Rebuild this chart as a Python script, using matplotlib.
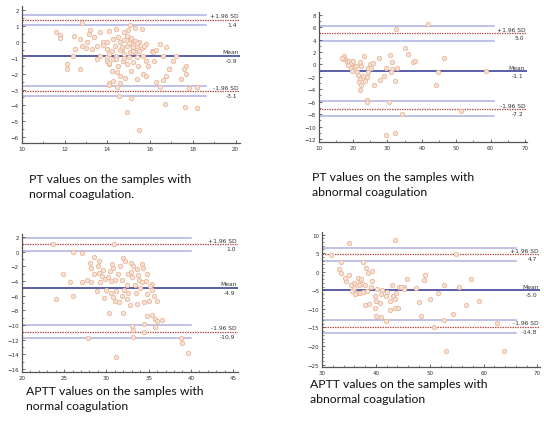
import matplotlib
matplotlib.use('Agg')
import matplotlib.pyplot as plt
from matplotlib.ticker import MultipleLocator
import matplotlib.transforms as mtransforms

# --- data ---
pt_normal_x = [12.8, 15.05, 11.6, 11.8, 11.8, 12.44, 12.7, 13.2, 13.15, 13.65, 14.1, 14.4, 14.77, 14.98,
               15.3, 15.6, 12.5, 12.8, 13.06, 13.27, 13.5, 13.8, 13.97, 14.28, 14.35, 14.6, 14.7, 14.9,
               15.05, 15.13, 15.2, 15.29, 15.37, 15.5, 15.5, 15.8, 16.07, 16.45, 16.76, 13.65, 13.97,
               14.1, 14.4, 14.77, 15.05, 15.37, 15.68, 16.14, 12.4, 12.1, 13.5, 13.97, 14.1, 14.28,
               14.5, 14.74, 14.9, 15.2, 15.44, 15.83, 16.2, 16.6, 17.08, 17.2, 17.7, 17.6, 12.1, 12.7,
               14.2, 14.43, 14.6, 15.13, 15.68, 15.83, 15.37, 14.82, 14.28, 14.1, 16.3, 16.6, 16.76,
               16.9, 17.46, 17.7, 16.45, 14.43, 14.1, 18.2, 17.8, 14.55, 15.13, 16.7, 17.65, 18.2,
               14.9, 15.5, 14.5, 14.8, 15.0, 15.2, 14.6, 14.9, 15.1, 15.4, 14.2, 14.0, 13.8, 14.7,
               15.3, 15.6, 14.4, 14.1, 15.0, 15.2, 14.8, 13.4, 13.0, 16.3, 16.9, 15.9, 14.6, 15.7]
pt_normal_y = [1.22, 1.06, 0.64, 0.43, 0.22, 0.34, 0.18, 0.72, 0.49, 0.64, 0.7, 0.8, 0.6, 0.76,
               0.85, 0.8, -0.45, -0.24, -0.03, -0.45, -0.24, -0.03, -0.45, 0.18, -0.24, -0.03, -0.45,
               -0.24, 0.18, -0.14, -0.45, 0.07, -0.24, -0.56, -0.03, -0.14, -0.56, -0.14, -0.35,
               -0.87, -0.98, -0.77, -0.87, -0.77, -0.66, -0.98, -0.87, -0.66, -0.87, -1.4, -1.08,
               -1.19, -1.4, -1.08, -1.5, -1.19, -1.4, -1.29, -1.5, -1.19, -1.19, -0.87, -1.19, -0.87,
               -1.5, -1.71, -1.71, -1.71, -1.82, -1.92, -2.13, -1.82, -2.03, -2.17, -2.34, -2.3,
               -2.44, -2.59, -2.5, -2.38, -2.13, -1.71, -2.34, -2.03, -2.86, -2.86, -2.7, -2.86,
               -2.9, -3.39, -3.55, -3.93, -4.12, -4.18, -4.39, -5.53, 0.3, 0.1, -0.1, -0.3, -0.5,
               0.4, 0.25, -0.1, -0.6, 0.0, -0.2, -0.35, -0.65, -0.4, -1.1, -1.3, -0.95, -0.55,
               -1.0, 0.3, -0.4, -0.5, -1.7, -1.5, -2.6, -0.25]

pt_abn_x = [41.8, 32.6, 17.4, 17.6, 18.1, 18.7, 19.5, 20.0, 19.3, 20.3, 20.5, 21.9, 22.4, 23.2, 24.2,
            24.9, 25.3, 25.8, 21.0, 21.5, 21.9, 21.7, 22.3, 23.4, 23.9, 22.9, 21.9, 26.0, 27.8, 29.0,
            29.7, 27.5, 30.7, 31.2, 31.4, 30.9, 32.9, 32.3, 35.0, 36.0, 37.5, 37.9, 46.5, 44.8, 44.2,
            58.6, 23.9, 24.1, 30.5, 34.3, 51.4, 29.5, 32.3, 24.4, 17.0, 18.4, 19.8, 20.8, 16.8]
pt_abn_y = [6.5, 5.7, 1.3, 0.9, 0.4, 0.6, 0.2, 0.6, -0.5, -0.7, -0.2, 0.4, -0.2, 1.4, -0.5,
            0.1, -0.6, 0.2, -1.3, -1.7, -2.3, -2.9, -3.3, -2.6, -2.1, -1.9, -4.1, -3.3, -2.5, -1.9,
            -0.6, 1.0, 1.5, 0.4, -0.7, -1.3, -0.6, -2.6, 2.7, 1.6, 0.4, 0.5, 1.1, -1.3, -3.3,
            -1.1, -5.7, -6.1, -6.0, -8.0, -7.5, -11.3, -11.0, -1.3, 0.8, -0.1, -1.0, -0.3, 1.0]

aptt_normal_x = [23.7, 30.9, 26.0, 27.1, 28.5, 28.1, 28.2, 29.1, 28.5, 29.1, 29.5, 30.7, 30.8, 32.0,
                 32.2, 32.9, 33.1, 34.2, 34.3, 33.6, 34.8, 24.9, 25.7, 27.1, 27.7, 28.2, 29.3, 29.9,
                 30.5, 31.0, 31.8, 33.0, 33.9, 34.2, 34.7, 35.4, 28.9, 30.0, 31.2, 32.1, 32.6, 35.4,
                 34.8, 35.6, 36.0, 35.0, 24.1, 26.0, 29.7, 30.5, 31.0, 31.5, 32.4, 32.8, 33.6, 34.5,
                 30.3, 32.0, 34.8, 35.4, 35.8, 36.0, 36.6, 35.8, 33.0, 33.2, 34.4, 34.4, 27.8, 33.2,
                 38.8, 38.9, 39.6, 31.2, 30.4, 31.6, 32.6, 33.7, 29.6, 30.2, 31.4, 32.5, 33.4, 34.0,
                 30.8, 31.9, 33.5, 29.0, 32.9, 35.2]
aptt_normal_y = [1.0, 1.0, -0.1, -0.2, -0.7, -1.5, -2.2, -1.3, -3.1, -2.9, -3.3, -1.7, -2.2, -0.8,
                 -1.3, -1.5, -1.9, -1.7, -2.2, -2.4, -3.1, -3.1, -4.2, -4.1, -3.8, -4.2, -4.2, -3.7,
                 -4.0, -3.8, -3.8, -3.5, -3.8, -4.2, -4.0, -4.4, -5.3, -5.2, -5.3, -5.2, -5.6, -5.2,
                 -5.8, -6.0, -6.7, -6.7, -6.5, -6.0, -6.3, -5.7, -6.7, -6.8, -6.5, -7.3, -7.2, -6.9,
                 -8.3, -8.4, -8.8, -8.7, -9.2, -9.4, -9.3, -10.3, -10.2, -10.7, -9.9, -11.0, -11.7,
                 -11.6, -11.8, -12.4, -13.8, -14.4, -2.6, -2.0, -3.0, -3.2, -2.5, -3.5, -3.0, -4.6,
                 -4.5, -4.9, -6.2, -6.0, -5.6, -2.0, -2.8, -4.7]

aptt_abn_x = [35.0, 43.5, 33.5, 37.6, 33.1, 33.5, 35.0, 38.1, 38.5, 39.3, 36.6, 37.1, 37.4, 36.8,
              35.9, 35.3, 34.5, 35.6, 36.4, 37.0, 37.6, 38.4, 39.0, 40.2, 41.2, 41.8, 40.9, 39.9,
              40.1, 40.7, 37.9, 38.7, 39.9, 40.1, 40.9, 41.8, 42.6, 43.6, 44.1, 42.7, 43.2, 43.5,
              43.8, 43.0, 44.3, 45.2, 45.3, 45.8, 47.4, 49.0, 49.2, 48.0, 48.4, 50.0, 51.5, 52.6,
              52.6, 55.4, 54.4, 57.6, 56.7, 59.1, 54.8, 50.8, 53.0, 63.8, 62.4, 31.6, 39.3, 36.0,
              37.3, 36.2, 38.0, 34.2, 42.1, 44.6]
aptt_abn_y = [7.8, 8.4, 2.7, 2.5, 0.6, -0.4, -1.0, 0.9, -0.4, 0.1, -1.8, -2.4, -3.3, -3.7,
              -3.0, -3.7, -2.4, -5.1, -5.7, -5.7, -5.5, -5.1, -4.2, -4.6, -4.8, -6.4, -6.0, -6.6,
              -7.8, -8.4, -8.9, -8.7, -9.8, -11.8, -12.3, -13.2, -10.2, -9.8, -9.8, -7.8, -6.4,
              -7.3, -5.7, -3.7, -4.2, -4.2, -4.6, -1.9, -4.5, -2.1, -1.0, -8.2, -12.0, -7.3, -5.7,
              -3.7, -12.9, -4.0, -11.4, -1.9, -8.9, -8.0, 4.8, -15.0, -21.2, -21.2, -13.8, 4.5,
              -2.4, -4.4, -2.0, -5.9, -3.6, -1.6, -5.4, -4.0]

# limits of agreement: (upper CI, +1.96 SD, lower CI), mean, (upper CI, -1.96 SD, lower CI)
pt_normal_loa = [(1.71, 1.4, 1.08), -0.87, (-2.8, -3.1, -3.41)]
pt_abn_loa = [(6.15, 5.0, 3.75), -1.1, (-5.95, -7.2, -8.35)]
aptt_normal_loa = [(1.8, 1.0, 0.05), -4.9, (-10.0, -10.9, -11.7)]
aptt_abn_loa = [(6.4, 4.7, 2.9), -5.0, (-13.1, -14.8, -16.6)]

pt_normal_labels = ['1.4', '-0.9', '-3.1']
pt_abn_labels = ['5.0', '-1.1', '-7.2']
aptt_normal_labels = ['1.0', '-4.9', '-10.9']
aptt_abn_labels = ['4.7', '-5.0', '-14.8']

captions = [
    'PT values on the samples with\nnormal coagulation.',
    'PT values on the samples with\nabnormal coagulation',
    'APTT values on the samples with\nnormal coagulation',
    'APTT values on the samples with\nabnormal coagulation',
]

CI_COLOR = '#aeb0e0'
SD_COLOR = '#c0504d'
MEAN_COLOR = '#2e3192'
PT_FACE = '#f8e2d6'
PT_EDGE = '#e8b89c'


def draw_panel(ax, x, y, loa, labels, xlim, ylim, ci_end, xmaj, xmin, ymaj, ymin):
    ax.set_xlim(*xlim)
    ax.set_ylim(*ylim)
    upper, mean, lower = loa
    for grp in (upper, lower):
        ax.plot([xlim[0], ci_end], [grp[0], grp[0]], color=CI_COLOR, lw=1.1, zorder=1)
        ax.plot([xlim[0], ci_end], [grp[2], grp[2]], color=CI_COLOR, lw=1.1, zorder=1)
        ax.plot([xlim[0], xlim[1]], [grp[1], grp[1]], color=SD_COLOR, lw=0.9,
                ls=(0, (1.2, 0.8)), zorder=1)
    ax.plot([xlim[0], xlim[1]], [mean, mean], color=MEAN_COLOR, lw=1.1, zorder=1)
    ax.scatter(x, y, s=10, facecolor=PT_FACE, edgecolor=PT_EDGE, linewidths=0.6, zorder=2)

    trans = mtransforms.blended_transform_factory(ax.transAxes, ax.transData)
    names = ['+1.96 SD', 'Mean', '-1.96 SD']
    levels = [upper[1], mean, lower[1]]
    for name, val, lev in zip(names, labels, levels):
        ax.annotate(name, xy=(1.0, lev), xycoords=trans, xytext=(-1, 1),
                    textcoords='offset points', ha='right', va='bottom',
                    fontsize=4.3, color='#333333')
        ax.annotate(val, xy=(1.0, lev), xycoords=trans, xytext=(-2, -1.5),
                    textcoords='offset points', ha='right', va='top',
                    fontsize=4.3, color='#333333')

    for side in ('top', 'right'):
        ax.spines[side].set_visible(False)
    for side in ('left', 'bottom'):
        ax.spines[side].set_color('#555555')
        ax.spines[side].set_linewidth(0.9)
    ax.xaxis.set_major_locator(MultipleLocator(xmaj))
    ax.xaxis.set_minor_locator(MultipleLocator(xmin))
    ax.yaxis.set_major_locator(MultipleLocator(ymaj))
    ax.yaxis.set_minor_locator(MultipleLocator(ymin))
    ax.tick_params(which='both', direction='in', colors='#555555', labelsize=4, pad=2,
                   labelcolor='#333333')
    ax.tick_params(which='major', length=2.5, width=0.6)
    ax.tick_params(which='minor', length=1.3, width=0.5)


fig = plt.figure(figsize=(5.44, 4.27), dpi=100)

ax1 = fig.add_axes([0.040, 0.663, 0.401, 0.321])
draw_panel(ax1, pt_normal_x, pt_normal_y, pt_normal_loa, pt_normal_labels,
           (10, 20.2), (-6.36, 2.27), 18.6, 2, 1, 1, 0.5)

ax2 = fig.add_axes([0.586, 0.665, 0.382, 0.304])
draw_panel(ax2, pt_abn_x, pt_abn_y, pt_abn_loa, pt_abn_labels,
           (10, 70.5), (-12.5, 8.4), 61, 10, 5, 2, 1)

ax3 = fig.add_axes([0.040, 0.1265, 0.398, 0.323])
draw_panel(ax3, aptt_normal_x, aptt_normal_y, aptt_normal_loa, aptt_normal_labels,
           (20, 45.6), (-16.4, 2.4), 40, 5, 1, 2, 1)

ax4 = fig.add_axes([0.592, 0.1375, 0.401, 0.317])
draw_panel(ax4, aptt_abn_x, aptt_abn_y, aptt_abn_loa, aptt_abn_labels,
           (30, 70.5), (-25.7, 10.7), 66, 10, 2, 5, 1)

# captions (figure pixel positions, from top)
caption_pos = [(29, 174), (312, 172), (26, 386), (310, 379)]
for text, (px, py) in zip(captions, caption_pos):
    fig.text(px / 544, 1 - py / 427, text, ha='left', va='top', fontsize=8.8,
             family=['Lato', 'DejaVu Sans'], color='#111111', linespacing=1.4)

fig.savefig('out.png', dpi=100)
